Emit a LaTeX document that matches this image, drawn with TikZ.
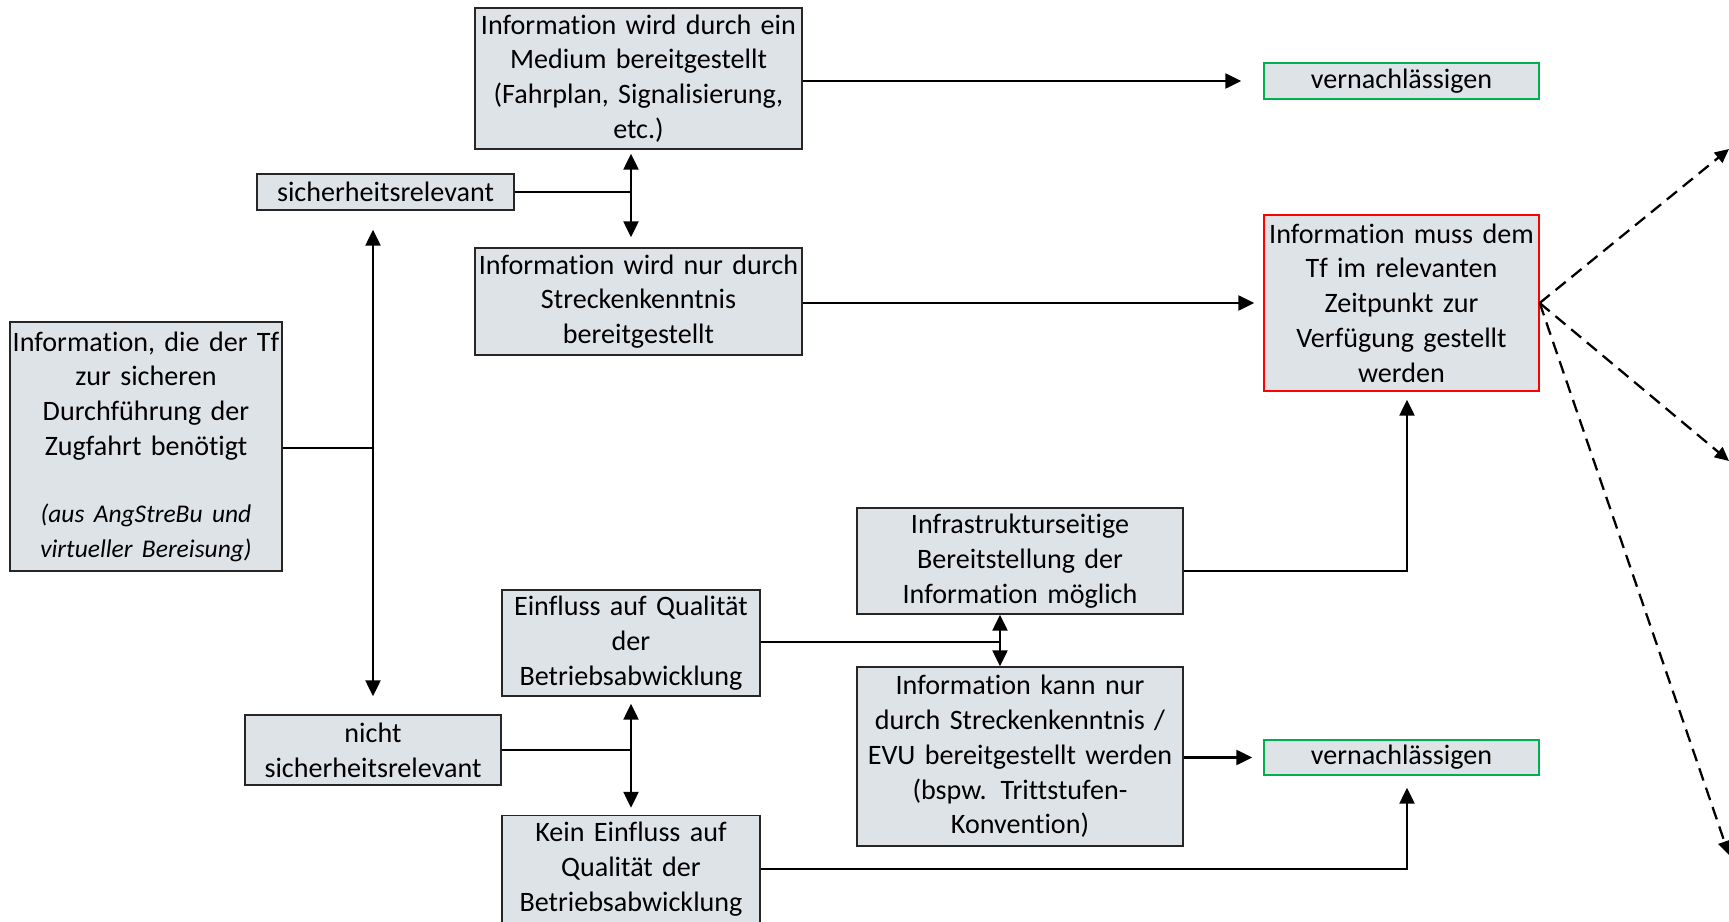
\documentclass[tikz,border=0pt]{standalone}
\usepackage{fontspec}
\setmainfont{Carlito}[Ligatures=CommonOff,WordSpace=0.85]
\usetikzlibrary{arrows.meta}

\definecolor{boxfill}{HTML}{DEE3E8}
\definecolor{boxline}{HTML}{262626}
\definecolor{keepred}{HTML}{FF0000}
\definecolor{dropgreen}{HTML}{00B050}

\tikzset{box/.style={draw=boxline,fill=boxfill,line width=0.8pt,align=center,inner sep=0pt,font=\fontsize{16}{19.8}\selectfont},
keep/.style={box,draw=keepred},
drop/.style={box,draw=dropgreen},
link/.style={line width=1.3pt},
arrow/.style={link,-{Triangle[length=0.32cm,width=0.3cm]}},
twoway/.style={link,{Triangle[length=0.32cm,width=0.3cm]}-{Triangle[length=0.32cm,width=0.3cm]}},
hint/.style={line width=1.3pt,dash pattern=on 0.26cm off 0.15cm,-{Triangle[length=0.28cm,width=0.26cm]}}}

\begin{document}
\begin{tikzpicture}[x=0.02cm,y=-0.02cm]
\useasboundingbox (0,0) rectangle (1729,922);

%% Coordinates of junctions.
\coordinate (j1) at (373,448);
\coordinate (j2) at (631,192);
\coordinate (j3) at (1000,642);
\coordinate (j4) at (631,750);
\coordinate (t1) at (1407,571);
\coordinate (h1) at (1729,149);
\coordinate (h2) at (1729,461);
\coordinate (h3) at (1729,855);

%% boxes
\node [box,text width=5.44cm,minimum height=4.98cm] (need) at (146,446.5)
  {Information, die der Tf\\ zur sicheren\\ Durchführung der\\ Zugfahrt benötigt\\[0.72cm]
   {\fontsize{14.5}{17.6}\selectfont\itshape (aus AngStreBu und\\ virtueller Bereisung)}};
\node [box,text width=5.14cm,minimum height=0.72cm] (safe) at (385.5,192) {sicherheitsrelevant};
\node [box,text width=5.12cm,minimum height=1.4cm] (unsafe) at (373,750) {nicht\\ sicherheitsrelevant};
\node [box,text width=6.54cm,minimum height=2.82cm] (medium) at (638.5,78.5)
  {Information wird durch ein\\ Medium bereitgestellt\\ (Fahrplan, Signalisierung,\\ etc.)};
\node [box,text width=6.54cm,minimum height=2.14cm] (route) at (638.5,301.5)
  {Information wird nur durch\\ Streckenkenntnis\\ bereitgestellt};
\node [drop,text width=5.5cm,minimum height=0.72cm] (neglectA) at (1401.5,81) {vernachlässigen};
\node [keep,text width=5.5cm,minimum height=3.52cm] (target) at (1401.5,303)
  {Information muss dem\\ Tf im relevanten\\ Zeitpunkt zur\\ Verfügung gestellt\\ werden};
\node [box,text width=6.52cm,minimum height=2.12cm] (infra) at (1020,561)
  {Infrastrukturseitige\\ Bereitstellung der\\ Information möglich};
\node [box,text width=5.16cm,minimum height=2.12cm] (quality) at (631,643)
  {Einfluss auf Qualität\\ der\\ Betriebsabwicklung};
\node [box,text width=6.52cm,minimum height=3.58cm] (evu) at (1020,756.5)
  {Information kann nur\\ durch Streckenkenntnis /\\ EVU bereitgestellt werden\\ (bspw. Trittstufen-\\ Konvention)};
\node [drop,text width=5.5cm,minimum height=0.7cm] (neglectB) at (1401.5,757.5) {vernachlässigen};
\node [box,text width=5.16cm,minimum height=2.14cm] (noquality) at (631,869)
  {Kein Einfluss auf\\ Qualität der\\ Betriebsabwicklung};

%% connectors
\draw [link] (need.east |- j1) -- (j1);
\draw [twoway,shorten <=0.38cm,shorten >=0.36cm] (safe.south -| j1) -- (unsafe.north -| j1);
\draw [link] (safe.east) -- (j2);
\draw [twoway,shorten <=0.08cm,shorten >=0.2cm] (medium.south -| j2) -- (route.north -| j2);
\draw [arrow,shorten >=0.44cm] (medium.east |- neglectA.west) -- (neglectA.west);
\draw [arrow,shorten >=0.18cm] (route.east |- target.west) -- (target.west);
\draw [arrow,shorten >=0.16cm] (infra.east |- t1) -| (target.south -| t1);
\draw [link] (quality.east |- j3) -- (j3);
\draw [twoway] (infra.south -| j3) -- (evu.north -| j3);
\draw [arrow,shorten >=0.22cm] (evu.east |- neglectB.west) -- (neglectB.west);
\draw [arrow,shorten >=0.24cm] (noquality.east) -| (neglectB.south -| t1);
\draw [link] (unsafe.east) -- (j4);
\draw [twoway,shorten <=0.14cm,shorten >=0.14cm] (quality.south -| j4) -- (noquality.north -| j4);

%% dashed hints leaving the picture
\draw [hint] (target.east) -- (h1);
\draw [hint] (target.east) -- (h2);
\draw [hint] (target.east) -- (h3);

\end{tikzpicture}
\end{document}
